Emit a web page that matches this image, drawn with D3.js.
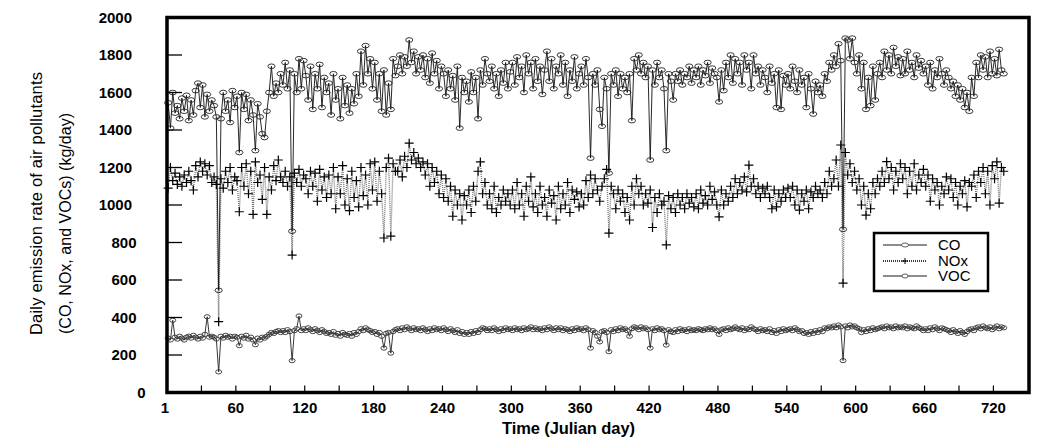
<!DOCTYPE html>
<html lang="en">
<head>
<meta charset="utf-8">
<title>Daily emission rate</title>
<script src="https://cdn.jsdelivr.net/npm/d3@7"></script>
<style>
  body { margin: 0; background: #fff; }
  text { font-family: Arial, "Liberation Sans", sans-serif; }
</style>
</head>
<body>
<svg id="chart"></svg>
<script>
// one value every second day, starting at day 1
var firstDay = 1, dayStep = 2;

var co = [
  1545,1410,1600,1490,1530,1460,1570,1500,1585,1450,
  1560,1480,1610,1650,1520,1640,1470,1590,1500,1560,
  1530,1470,545,1460,1600,1500,1560,1440,1610,1520,
  1580,1280,1600,1510,1590,1450,1560,1480,1290,1540,
  1470,1380,1360,1500,1600,1740,1580,1650,1600,1700,
  1640,1760,1620,1720,860,1700,1600,1780,1620,1770,
  1690,1560,1740,1510,1700,1620,1750,1520,1680,1600,
  1650,1480,1700,1560,1620,1460,1680,1530,1640,1490,
  1620,1540,1700,1580,1820,1640,1850,1700,1780,1620,
  1760,1560,1700,1500,1720,1480,1650,1510,1780,1690,
  1740,1800,1700,1790,1740,1880,1760,1820,1700,1790,
  1720,1800,1680,1780,1650,1810,1700,1770,1620,1740,
  1700,1580,1720,1620,1690,1560,1740,1410,1680,1600,
  1660,1550,1710,1600,1680,1460,1720,1640,1780,1700,
  1660,1740,1620,1700,1580,1720,1650,1760,1620,1710,
  1760,1640,1790,1680,1740,1600,1800,1700,1760,1620,
  1780,1660,1740,1590,1720,1820,1660,1780,1620,1740,
  1700,1800,1640,1760,1580,1720,1660,1790,1620,1700,
  1740,1640,1780,1680,1250,1700,1640,1720,1510,1420,
  1680,1620,1170,1700,1640,1720,1580,1700,1620,1680,
  1600,1700,1450,1780,1720,1800,1700,1760,1680,1740,
  1240,1720,1640,1760,1680,1720,1620,1290,1700,1660,
  1560,1700,1660,1720,1640,1700,1680,1740,1650,1720,
  1680,1740,1640,1720,1690,1760,1650,1730,1700,1680,
  1550,1720,1610,1760,1680,1800,1650,1780,1700,1760,
  1640,1800,1720,1760,1620,1800,1700,1740,1640,1720,
  1680,1600,1740,1650,1700,1520,1720,1510,1690,1640,
  1700,1620,1740,1660,1600,1720,1640,1680,1520,1700,
  1620,1485,1660,1600,1640,1580,1700,1660,1760,1720,
  1800,1740,1860,1770,870,1890,1880,1780,1890,1760,
  1700,1800,1620,1760,1510,1680,1530,1740,1560,1700,
  1760,1680,1820,1720,1800,1700,1840,1740,1790,1690,
  1780,1700,1820,1720,1760,1680,1800,1730,1770,1700,
  1740,1640,1760,1620,1720,1680,1780,1700,1640,1720,
  1680,1620,1660,1580,1640,1560,1620,1520,1600,1500,
  1680,1580,1760,1680,1800,1720,1790,1680,1820,1700,
  1780,1690,1830,1720,1700
];

var nox = [
  1090,1200,1130,1170,1110,1150,1100,1160,1120,1180,
  1130,1080,1210,1150,1230,1180,1220,1160,1210,1120,
  1150,1110,378,1140,1090,1180,1120,1200,1080,1150,
  1130,964,1200,1100,1220,1060,1180,950,1230,1120,
  1160,1030,1200,950,1150,1080,1210,1130,1240,1150,
  1120,1180,1100,1150,733,1170,1120,1190,1100,1160,
  1140,1060,1180,1100,1170,1020,1190,1080,1150,1040,
  1160,1060,1200,980,1150,1060,1210,1000,1140,970,
  1180,1040,1130,990,1200,1050,1160,1000,1220,1080,
  1230,1020,1180,1060,824,1200,1250,834,1220,1180,
  1180,1240,1150,1260,1200,1330,1240,1280,1220,1250,
  1200,1230,1160,1220,1100,1200,1120,1180,1060,1160,
  1040,1140,1020,1100,940,1080,1000,1060,920,1050,
  1000,1080,960,1100,1020,1180,1230,1060,1120,1000,
  1060,980,1100,960,1040,1000,1080,1020,1060,1000,
  1080,980,1120,1000,1060,940,1100,1020,1150,990,
  1060,960,1100,1000,1040,940,1080,1010,1050,920,
  1100,980,1060,1000,1120,960,1080,1030,1070,990,
  1060,1000,1130,1040,1160,1060,1140,1080,1020,1100,
  1140,1190,850,1100,1060,980,1080,1020,1060,960,
  1040,920,1100,1000,1140,1060,1100,1000,1060,1010,
  1080,880,1040,960,1060,1000,1020,787,1050,980,
  1040,960,1060,1000,1040,980,1060,1010,1040,990,
  1060,980,1080,1010,1050,1000,1100,1030,1070,1000,
  937,1080,1000,1060,1020,1100,1040,1140,1060,1120,
  1080,1150,1070,1213,1100,1140,1060,1100,1040,1090,
  1060,1100,1040,980,1080,990,1060,1020,1080,1040,
  1090,1040,1100,1000,1080,973,1060,1020,1080,980,
  1070,1040,1100,1060,1080,1040,1120,1060,1180,1100,
  1140,1240,1100,1320,583,1280,1160,1220,1120,1180,
  1080,1140,1000,1100,946,1060,980,1120,1060,1140,
  1100,1180,1120,1231,1140,1200,1080,1180,1120,1220,
  1140,1200,1060,1180,1100,1220,1080,1160,1120,1190,
  1100,1160,1020,1140,1080,1120,1000,1100,1060,1150,
  1080,1140,1040,1120,1000,1100,1060,1130,990,1120,
  1100,1160,1040,1180,1120,1200,1060,1180,1000,1210,
  1140,1230,1010,1200,1180
];

var voc = [
  290,280,385,295,285,300,290,280,295,300,
  290,305,295,285,300,290,310,404,295,300,
  295,285,110,300,290,305,295,300,285,300,
  295,250,300,290,305,285,295,280,255,290,
  280,295,290,300,310,320,315,325,330,320,
  330,320,335,325,170,330,340,408,330,340,
  330,345,335,325,340,330,320,335,325,315,
  320,310,325,305,315,300,320,310,305,315,
  300,320,310,325,340,330,345,335,330,320,
  325,310,320,300,237,315,320,210,325,335,
  340,330,345,335,350,340,330,345,335,340,
  330,345,335,325,340,330,345,335,340,330,
  345,335,325,340,330,320,335,315,325,310,
  320,310,325,315,330,320,335,345,340,330,
  340,330,345,335,325,340,330,345,335,340,
  330,345,335,340,330,345,335,340,350,335,
  345,335,340,330,345,335,350,340,330,345,
  335,345,330,340,335,325,340,330,345,335,
  340,330,345,335,237,330,320,300,270,325,
  330,320,218,335,325,340,330,345,335,340,
  330,300,340,350,345,335,350,340,345,335,
  237,340,330,345,335,340,330,253,335,325,
  320,335,325,340,330,335,325,340,330,335,
  330,340,335,330,340,335,345,335,340,330,
  310,335,340,330,345,335,340,350,340,335,
  345,330,340,335,350,340,335,325,340,330,
  335,325,340,320,330,315,335,325,340,330,
  335,340,330,345,335,325,330,315,320,310,
  325,315,330,320,335,325,345,340,350,345,
  355,345,360,350,170,355,345,360,350,355,
  345,340,320,335,325,340,330,345,335,340,
  345,350,340,355,345,350,340,355,345,350,
  345,355,340,350,345,340,355,345,340,330,
  340,330,345,335,350,340,330,345,340,335,
  330,320,335,325,315,330,320,310,325,335,
  340,330,345,350,340,355,345,340,350,335,
  345,355,340,350,345
];

var yTicks = [0, 200, 400, 600, 800, 1000, 1200, 1400, 1600, 1800, 2000];
var xLabelTicks = [1, 60, 120, 180, 240, 300, 360, 420, 480, 540, 600, 660, 720];
var xMinorTicks = [30, 60, 90, 120, 150, 180, 210, 240, 270, 300, 330, 360, 390, 420, 450, 480, 510, 540, 570, 600, 630, 660, 690, 720];
var legendNames = ["CO", "NOx", "VOC"];

var width = 1051, height = 441;
var plotLeft = 167, plotRight = 1029, plotTop = 17.5, plotBottom = 392.5;

var svg = d3.select("#chart")
    .attr("width", width)
    .attr("height", height);

var x = d3.scaleLinear().domain([0, 751]).range([plotLeft, plotRight]);
var y = d3.scaleLinear().domain([0, 2000]).range([plotBottom, plotTop]);

function toPoints(vals) {
  return vals.map(function(v, i) { return { day: firstDay + i * dayStep, v: v }; });
}

var line = d3.line().x(d => x(d.day)).y(d => y(d.v));

var plot = svg.append("g");

var coPts = toPoints(co), noxPts = toPoints(nox), vocPts = toPoints(voc);

// series lines
plot.append("path").datum(noxPts)
    .attr("d", line).attr("fill", "none")
    .attr("stroke", "#7a7a7a").attr("stroke-width", 1.4)
    .attr("stroke-dasharray", "1,1");

plot.append("path").datum(coPts)
    .attr("d", line).attr("fill", "none")
    .attr("stroke", "#111").attr("stroke-width", 0.9);

plot.append("path").datum(vocPts)
    .attr("d", line).attr("fill", "none")
    .attr("stroke", "#222").attr("stroke-width", 0.9);

// markers (open, the line shows through)
plot.selectAll(".nox").data(noxPts).enter().append("path")
    .attr("class", "nox")
    .attr("d", d => "M" + (x(d.day) - 4.5) + "," + y(d.v) + "h9M" + x(d.day) + "," + (y(d.v) - 4.5) + "v9")
    .attr("stroke", "#000").attr("stroke-width", 1.2);

plot.selectAll(".co").data(coPts).enter().append("ellipse")
    .attr("class", "co")
    .attr("cx", d => x(d.day)).attr("cy", d => y(d.v))
    .attr("rx", 3.6).attr("ry", 2.3)
    .attr("fill", "none").attr("stroke", "#222").attr("stroke-width", 0.9);

plot.selectAll(".voc").data(vocPts).enter().append("ellipse")
    .attr("class", "voc")
    .attr("cx", d => x(d.day)).attr("cy", d => y(d.v))
    .attr("rx", 3).attr("ry", 2.1)
    .attr("fill", "none").attr("stroke", "#333").attr("stroke-width", 0.9);

// frame
svg.append("rect")
    .attr("x", plotLeft).attr("y", plotTop)
    .attr("width", plotRight - plotLeft).attr("height", plotBottom - plotTop)
    .attr("fill", "none").attr("stroke", "#000").attr("stroke-width", 3.5);

// y ticks (inward) and labels
svg.selectAll(".ytick").data(yTicks.filter(t => t > 0 && t < 2000)).enter().append("line")
    .attr("x1", plotLeft).attr("x2", plotLeft + 15)
    .attr("y1", d => y(d)).attr("y2", d => y(d))
    .attr("stroke", "#000").attr("stroke-width", 1.3);

svg.selectAll(".ylab").data(yTicks).enter().append("text")
    .attr("x", d => 132 + (4 - String(d).length) * 4.5)
    .attr("y", d => y(d)).attr("dy", "0.36em")
    .attr("text-anchor", "end")
    .style("font-size", "15px").style("font-weight", "bold")
    .text(d => d);

// x ticks (inward) and labels
svg.selectAll(".xtick").data(xMinorTicks).enter().append("line")
    .attr("x1", d => x(d)).attr("x2", d => x(d))
    .attr("y1", plotBottom).attr("y2", plotBottom - 7)
    .attr("stroke", "#000").attr("stroke-width", 1.2);

svg.selectAll(".xlab").data(xLabelTicks).enter().append("text")
    .attr("x", d => d === 1 ? x(0) - 2 : x(d))
    .attr("y", 413)
    .attr("text-anchor", "middle")
    .style("font-size", "15px").style("font-weight", "bold")
    .text(d => d);

// axis titles
svg.append("text")
    .attr("x", 502).attr("y", 434)
    .attr("textLength", 133).attr("lengthAdjust", "spacing")
    .style("font-size", "16.5px").style("font-weight", "bold")
    .text("Time (Julian day)");

svg.append("text")
    .attr("transform", "translate(42,335) rotate(-90)")
    .attr("textLength", 263).attr("lengthAdjust", "spacing")
    .style("font-size", "16.5px")
    .text("Daily emission rate of air pollutants");

svg.append("text")
    .attr("transform", "translate(71,334) rotate(-90)")
    .attr("textLength", 221).attr("lengthAdjust", "spacing")
    .style("font-size", "16px")
    .text("(CO, NOx, and VOCs) (kg/day)");

// legend
var lg = svg.append("g");
lg.append("rect")
    .attr("x", 874).attr("y", 233).attr("width", 114).attr("height", 58)
    .attr("fill", "#fff").attr("stroke", "#000").attr("stroke-width", 2.5);

var rows = [245, 261, 276];
legendNames.forEach(function(name, i) {
  var ly = rows[i];
  var ln = lg.append("line")
      .attr("x1", 883).attr("x2", 927).attr("y1", ly).attr("y2", ly)
      .attr("stroke", "#000").attr("stroke-width", i === 1 ? 1.6 : 0.9);
  if (i === 1) {
    ln.attr("stroke-dasharray", "1,1");
    lg.append("path")
        .attr("d", "M902," + ly + "h6M905," + (ly - 3) + "v6")
        .attr("stroke", "#000").attr("stroke-width", 1);
  } else {
    lg.append("ellipse")
        .attr("cx", 905).attr("cy", ly)
        .attr("rx", i === 0 ? 3.5 : 3).attr("ry", 2)
        .attr("fill", "#fff").attr("stroke", "#333").attr("stroke-width", 0.8);
  }
  lg.append("text")
      .attr("x", 938).attr("y", ly + 5)
      .style("font-size", "15px")
      .text(name);
});
</script>
</body>
</html>
